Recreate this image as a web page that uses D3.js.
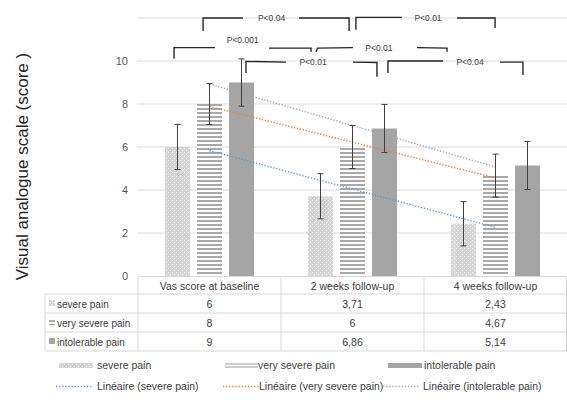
<!DOCTYPE html>
<html><head><meta charset="utf-8">
<script src="https://cdn.jsdelivr.net/npm/d3@7"></script>
<style>body{margin:0;background:#fff}svg{display:block}text{font-family:"Liberation Sans",Arial,sans-serif}</style>
</head><body><svg id="c" width="567" height="403"></svg>
<script>
const categories = ["Vas score at baseline", "2 weeks follow-up", "4 weeks follow-up"];
const seriesNames = ["severe pain", "very severe pain", "intolerable pain"];
const severe = [6, 3.71, 2.43];
const verySevere = [8, 6, 4.67];
const intolerable = [9, 6.86, 5.14];
const severeErr = [1.05, 1.05, 1.03];
const verySevereErr = [0.95, 1.0, 1.0];
const intolerableErr = [1.1, 1.12, 1.12];
const yTicks = [0, 2, 4, 6, 8, 10];
const yGrid = [2, 4, 6, 8, 10, 12];
const trendNames = ["Linéaire (severe pain)", "Linéaire (very severe pain)", "Linéaire (intolerable pain)"];
const yTitle = "Visual analogue scale (score )";
// significance brackets: x in category-position units (0..3), y in score units
const brackets = [
  [[0.455,11.4],[0.455,12.0],[0.734,12.0]],
  [[1.126,12.0],[1.476,12.0],[1.476,11.4]],
  [[1.524,11.45],[1.524,12.03],[1.846,12.03]],
  [[2.231,12.0],[2.497,12.0],[2.497,11.53]],
  [[0.252,10.1],[0.252,10.62],[0.538,10.62]],
  [[0.916,10.6],[1.21,10.6],[1.21,10.43]],
  [[1.245,10.42],[1.255,10.6],[1.503,10.62]],
  [[1.951,10.62],[2.161,10.6],[2.161,10.43]],
  [[0.755,9.44],[0.755,9.98],[1.035,9.95]],
  [[1.503,9.95],[1.671,9.93],[1.671,9.27]],
  [[1.748,9.44],[1.748,10.0],[2.133,10.0]],
  [[2.531,9.95],[2.692,9.95],[2.692,9.35]]
];
const pLabels = [
  {t:"P<0.04", x:0.934, y:12.0},
  {t:"P<0.01", x:2.028, y:12.0},
  {t:"P<0.001", x:0.732, y:10.98},
  {t:"P<0.01", x:1.685, y:10.62},
  {t:"P<0.01", x:1.224, y:9.95},
  {t:"P<0.04", x:2.322, y:9.95}
];

const svg = d3.select("#c");
const L = 138, R = 567, T = 18, B = 276;
const y = d3.scaleLinear().domain([0, 12]).range([B, T]);
const x = d3.scaleBand().domain(categories).range([L, R]).padding(0);
const xs = d3.scaleBand().domain(seriesNames).range([27, 116]).paddingInner(0.22);
const xPos = d3.scaleLinear().domain([0, 3]).range([L, R]);

const defs = svg.append("defs");
const p1 = defs.append("pattern").attr("id","dots").attr("patternUnits","userSpaceOnUse").attr("width",4).attr("height",4);
p1.append("rect").attr("width",4).attr("height",4).attr("fill","#d6d6d6");
p1.append("rect").attr("x",0).attr("y",0).attr("width",1).attr("height",1).attr("fill","#f8f8f8");
p1.append("rect").attr("x",2).attr("y",2).attr("width",1).attr("height",1).attr("fill","#f8f8f8");
const p2 = defs.append("pattern").attr("id","stripes").attr("patternUnits","userSpaceOnUse").attr("width",4).attr("height",4);
p2.append("rect").attr("width",4).attr("height",4).attr("fill","#ffffff");
p2.append("rect").attr("y",0).attr("width",4).attr("height",2).attr("fill","#a9a9a9");
const fills = ["url(#dots)", "url(#stripes)", "#a5a5a5"];
const trendColors = ["#5b9bd5", "#ed7d31", "#a5a5a5"];

// gridlines
svg.append("g").selectAll("line").data(yGrid).join("line")
  .attr("x1", L - 1).attr("x2", R).attr("y1", d => y(d)).attr("y2", d => y(d))
  .attr("stroke", "#d9d9d9").attr("stroke-width", 1);

// y axis labels
const yAxis = d3.axisLeft(y).tickValues(yTicks).tickSize(0).tickPadding(10);
const ga = svg.append("g").attr("transform", `translate(${L},0)`).call(yAxis);
ga.select(".domain").remove();
ga.selectAll("text").attr("fill", "#595959").attr("font-size", 11).attr("font-family", '"Liberation Sans",Arial,sans-serif');

// y title
svg.append("text").attr("transform", `translate(28,${(B + 61) / 2 - 2}) rotate(-90)`)
  .attr("text-anchor", "middle").attr("font-size", 17).attr("fill", "#262626").text(yTitle);

// bars
const series = [severe, verySevere, intolerable];
const errs = [severeErr, verySevereErr, intolerableErr];
series.forEach((vals, si) => {
  const g = svg.append("g");
  g.selectAll("rect").data(vals).join("rect")
    .attr("x", (d, i) => x(categories[i]) + xs(seriesNames[si]))
    .attr("width", xs.bandwidth())
    .attr("y", d => y(d)).attr("height", d => y(0) - y(d))
    .attr("fill", fills[si]);
});

// trend lines (least squares over the three categories)
series.forEach((vals, si) => {
  const n = vals.length, xsI = d3.range(n);
  const mx = d3.mean(xsI), my = d3.mean(vals);
  const slope = d3.sum(xsI, i => (i - mx) * (vals[i] - my)) / d3.sum(xsI, i => (i - mx) ** 2);
  const f = i => my + slope * (i - mx);
  svg.append("line")
    .attr("x1", x(categories[0]) + x.bandwidth() / 2).attr("y1", y(f(0)))
    .attr("x2", x(categories[n - 1]) + x.bandwidth() / 2).attr("y2", y(f(n - 1)))
    .attr("stroke", trendColors[si]).attr("stroke-width", 1.4).attr("stroke-dasharray", "1.3,1.7");
});

// error bars
series.forEach((vals, si) => {
  const g = svg.append("g").attr("stroke", "#404040").attr("stroke-width", 1);
  vals.forEach((v, i) => {
    const cx = x(categories[i]) + xs(seriesNames[si]) + xs.bandwidth() / 2;
    const e = errs[si][i];
    g.append("line").attr("x1", cx).attr("x2", cx).attr("y1", y(v + e)).attr("y2", y(v - e));
    g.append("line").attr("x1", cx - 3).attr("x2", cx + 3).attr("y1", y(v + e)).attr("y2", y(v + e));
    g.append("line").attr("x1", cx - 3).attr("x2", cx + 3).attr("y1", y(v - e)).attr("y2", y(v - e));
  });
});

// brackets
const line = d3.line().x(d => xPos(d[0])).y(d => y(d[1]));
svg.append("g").selectAll("path").data(brackets).join("path")
  .attr("d", line).attr("fill", "none").attr("stroke", "#262626").attr("stroke-width", 1.4);
svg.append("g").selectAll("text").data(pLabels).join("text")
  .attr("x", d => xPos(d.x)).attr("y", d => y(d.y) + 3)
  .attr("text-anchor", "middle").attr("font-size", 8.5).attr("fill", "#404040").text(d => d.t);

// axis line
svg.append("line").attr("x1", L).attr("x2", R).attr("y1", y(0) + 0.5).attr("y2", y(0) + 0.5).attr("stroke", "#d9d9d9");

// data table
const tTop = 277, hH = 17, rH = 19, tL = 45;
const tg = svg.append("g");
const tc = "#d9d9d9";
const rowsY = d3.range(4).map(i => tTop + hH + i * rH);
rowsY.forEach(ry => tg.append("line").attr("x1", tL).attr("x2", R).attr("y1", ry).attr("y2", ry).attr("stroke", tc));
tg.append("line").attr("x1", tL).attr("x2", tL).attr("y1", rowsY[0]).attr("y2", rowsY[3]).attr("stroke", tc);
categories.forEach((c, i) => {
  tg.append("line").attr("x1", x(c)).attr("x2", x(c)).attr("y1", tTop).attr("y2", rowsY[3]).attr("stroke", tc);
});
tg.append("line").attr("x1", R - 0.5).attr("x2", R - 0.5).attr("y1", tTop).attr("y2", rowsY[3]).attr("stroke", tc);
tg.selectAll("text.h").data(categories).join("text").attr("class", "h")
  .attr("x", d => x(d) + x.bandwidth() / 2).attr("y", tTop + hH / 2 + 4)
  .attr("text-anchor", "middle").attr("font-size", 10.5).attr("fill", "#404040").text(d => d);
const fmt = v => String(v).replace(".", ",");
series.forEach((vals, si) => {
  const cy = rowsY[si] + rH / 2 + 4;
  tg.append("rect").attr("x", 49).attr("y", cy - 7.5).attr("width", 6).attr("height", 6).attr("fill", fills[si]);
  tg.append("text").attr("x", 57).attr("y", cy).attr("font-size", 10).attr("fill", "#404040").text(seriesNames[si]);
  vals.forEach((v, i) => {
    tg.append("text").attr("x", x(categories[i]) + x.bandwidth() / 2).attr("y", cy)
      .attr("text-anchor", "middle").attr("font-size", 10.5).attr("fill", "#404040").text(fmt(v));
  });
});

// legend
const lg = svg.append("g");
const legX = [59, 225, 388];
const legTX = [97, 258, 424];
seriesNames.forEach((n, i) => {
  const yy = 369;
  if (i === 1) {
    lg.append("line").attr("x1", legX[i]).attr("x2", legX[i] + 33).attr("y1", yy - 5).attr("y2", yy - 5).attr("stroke", "#bfbfbf").attr("stroke-width", 1.3);
    lg.append("line").attr("x1", legX[i]).attr("x2", legX[i] + 33).attr("y1", yy - 2).attr("y2", yy - 2).attr("stroke", "#bfbfbf").attr("stroke-width", 1.3);
  } else {
    lg.append("rect").attr("x", legX[i]).attr("y", yy - 6).attr("width", 34).attr("height", 5).attr("fill", fills[i]);
  }
  lg.append("text").attr("x", legTX[i]).attr("y", yy).attr("font-size", 10.5).attr("fill", "#404040").text(n);
});
const trX = [56, 223, 383];
const trTX = [97, 259, 423];
trendNames.forEach((n, i) => {
  const yy = 390;
  lg.append("line").attr("x1", trX[i]).attr("x2", trX[i] + 36).attr("y1", yy - 3.5).attr("y2", yy - 3.5)
    .attr("stroke", trendColors[i]).attr("stroke-width", 1.3).attr("stroke-dasharray", "1.3,1.8");
  lg.append("text").attr("x", trTX[i]).attr("y", yy).attr("font-size", 10.5).attr("fill", "#404040").text(n);
});
</script></body></html>
